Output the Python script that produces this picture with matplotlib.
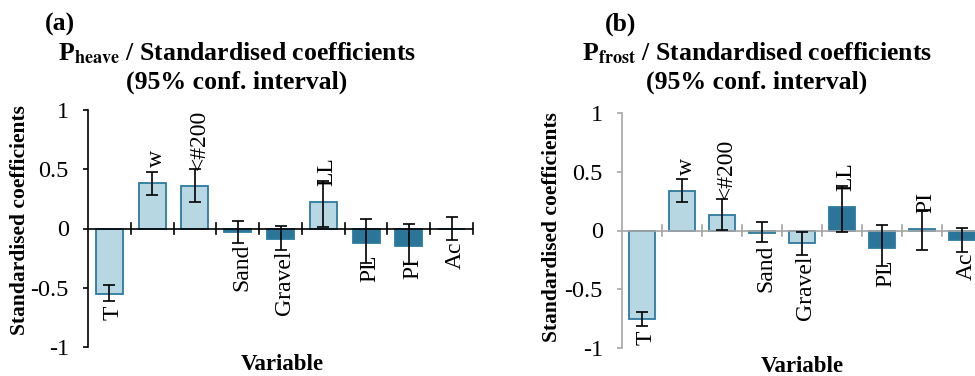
import matplotlib
matplotlib.use("Agg")
import matplotlib.pyplot as plt
import numpy as np

plt.rcParams['font.family'] = ['Liberation Serif', 'DejaVu Serif']
plt.rcParams['mathtext.fontset'] = 'stix'

categories = ["T", "w", "<#200", "Sand", "Gravel", "LL", "PL", "PI", "Ac"]

heave_coef = [-0.55, 0.38, 0.36, -0.03, -0.085, 0.22, -0.12, -0.15, -0.005]
heave_low = [-0.61, 0.28, 0.22, -0.12, -0.18, 0.01, -0.29, -0.30, -0.10]
heave_high = [-0.48, 0.48, 0.50, 0.06, 0.02, 0.40, 0.08, 0.04, 0.10]
heave_dark = [False, False, False, True, True, False, True, True, True]

frost_coef = [-0.75, 0.34, 0.135, -0.02, -0.11, 0.20, -0.145, 0.01, -0.085]
frost_low = [-0.81, 0.24, 0.005, -0.10, -0.21, -0.01, -0.30, -0.17, -0.18]
frost_high = [-0.69, 0.44, 0.265, 0.07, -0.01, 0.38, 0.05, 0.17, 0.02]
frost_dark = [False, False, False, False, False, True, True, False, True]

yticks = [-1, -0.5, 0, 0.5, 1]
ytick_labels = ["-1", "-0.5", "0", "0.5", "1"]

LIGHT = "#b7d7e3"
EDGE = "#2b7aa0"
DARK = "#2a7598"

W, H = 975, 376
fig = plt.figure(figsize=(W / 100, H / 100), dpi=100)


def px_axes(l, r, t, b):
    return fig.add_axes([l / W, 1 - b / H, (r - l) / W, (b - t) / H])


def draw(ax, coef, low, high, dark, axcolor):
    x = np.arange(len(categories))
    fills = [DARK if d else LIGHT for d in dark]
    ax.bar(x, coef, width=0.63, color=fills, edgecolor=EDGE, linewidth=1.3, zorder=2)
    coef_a = np.array(coef)
    yerr = [coef_a - np.array(low), np.array(high) - coef_a]
    ax.errorbar(x, coef, yerr=yerr, fmt='none', ecolor='black', elinewidth=1.2,
                capsize=4.5, capthick=1.2, zorder=4)
    ax.set_xlim(-0.5, len(categories) - 0.5)
    ax.set_ylim(-1, 1)
    for s in ['top', 'right', 'bottom']:
        ax.spines[s].set_visible(False)
    ax.spines['left'].set_color(axcolor)
    ax.spines['left'].set_linewidth(1.2)
    ax.axhline(0, color=axcolor, lw=1.2, zorder=3)
    for b in np.arange(0.5, len(categories), 1.0):
        ax.plot([b, b], [-0.045, 0.045], color=axcolor, lw=1.2, zorder=3, clip_on=False)
    ax.set_xticks([])
    ax.set_yticks(yticks)
    ax.set_yticklabels(ytick_labels, fontsize=17.5)
    ax.tick_params(axis='y', direction='out', length=3.8, width=1.2, color=axcolor, pad=10)
    for i, (c, lab) in enumerate(zip(coef, categories)):
        if c >= 0:
            ax.annotate(lab, (i, c), xytext=(4, 16), textcoords='offset pixels',
                        rotation=90, ha='center', va='bottom', fontsize=17, zorder=5)
        else:
            ax.annotate(lab, (i, c), xytext=(4, -12), textcoords='offset pixels',
                        rotation=90, ha='center', va='top', fontsize=17, zorder=5)
    ax.patch.set_alpha(0)


ax1 = px_axes(88, 473, 110, 347)
draw(ax1, heave_coef, heave_low, heave_high, heave_dark, "black")
ax2 = px_axes(622, 982, 113, 348)
draw(ax2, frost_coef, frost_low, frost_high, frost_dark, "#a6a6a6")


def ftext(x, y, s, **kw):
    fig.text(x / W, 1 - y / H, s, **kw)


for (cx, panel, sub, ylx, yly) in [(237, "(a)", "heave", 20, 220), (757, "(b)", "frost", 552, 227)]:
    lx = 45 if panel == "(a)" else 605
    ftext(lx, 31, panel, fontsize=18.5, fontweight='bold', ha='left', va='baseline')
    ftext(cx, 60, r"P$_{\mathbf{" + sub + r"}}$ / Standardised coefficients", fontsize=18.5,
          fontweight='bold', ha='center', va='baseline')
    ftext(cx, 89, "(95% conf. interval)", fontsize=18.5, fontweight='bold', ha='center', va='baseline')
    ftext(ylx, yly, "Standardised coefficients", fontsize=15.5, fontweight='bold',
          rotation=90, ha='center', va='center')

ftext(282, 365, "Variable", fontsize=16.5, fontweight='bold', ha='center', va='center')
ftext(802, 367, "Variable", fontsize=16.5, fontweight='bold', ha='center', va='center')

fig.savefig("out.png", dpi=100)
